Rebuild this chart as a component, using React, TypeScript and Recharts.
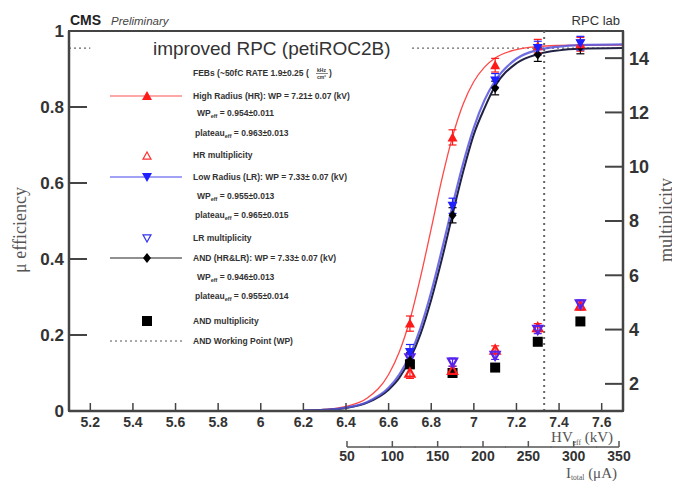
import React from "react";
import {
  ComposedChart,
  Line,
  Scatter,
  ErrorBar,
  XAxis,
  YAxis,
  ReferenceLine,
  ReferenceArea,
} from "recharts";

// measured points (HV_eff in kV)
const HV = [6.7, 6.9, 7.1, 7.3, 7.5];
const hrEff = [0.23, 0.72, 0.91, 0.96, 0.965];
const lrEff = [0.155, 0.54, 0.87, 0.955, 0.968];
const andEff = [0.132, 0.515, 0.85, 0.938, 0.958];
const effErr = [0.02, 0.02, 0.018, 0.018, 0.018];

const hrMult = [2.4, 2.5, 3.25, 4.07, 4.87];
const lrMult = [2.95, 2.8, 3.05, 4.0, 4.94];
const andMult = [2.72, 2.4, 2.6, 3.55, 4.3];
const multErr = [0.2, 0.15, 0.15, 0.15, 0.15];

// fitted sigmoid curves
const curveHV = [6.2, 6.3, 6.4, 6.5, 6.6, 6.65, 6.7, 6.75, 6.8, 6.85, 6.9, 6.95, 7.0, 7.05, 7.1, 7.2, 7.3, 7.4, 7.5, 7.7];
const hrFit = [0.001, 0.004, 0.012, 0.034, 0.096, 0.155, 0.24, 0.353, 0.48, 0.61, 0.722, 0.808, 0.867, 0.905, 0.929, 0.951, 0.959, 0.962, 0.963, 0.963];
const lrFit = [0.001, 0.003, 0.009, 0.024, 0.061, 0.096, 0.147, 0.219, 0.313, 0.424, 0.541, 0.652, 0.746, 0.818, 0.869, 0.927, 0.95, 0.959, 0.963, 0.965];
const andFit = [0.001, 0.003, 0.008, 0.022, 0.056, 0.087, 0.136, 0.203, 0.293, 0.4, 0.517, 0.63, 0.728, 0.797, 0.855, 0.915, 0.939, 0.949, 0.953, 0.955];

const hvTicks = [5.2, 5.4, 5.6, 5.8, 6, 6.2, 6.4, 6.6, 6.8, 7, 7.2, 7.4, 7.6];
const effTicks = [0, 0.2, 0.4, 0.6, 0.8, 1];
const multTicks = [2, 4, 6, 8, 10, 12, 14];
const curTicks = [50, 100, 150, 200, 250, 300, 350];

const WP = 7.33;
const WP_EFF = 0.955;

const HVX = 0;
const CURX = 1;

const RED = "#ff1a1a";
const BLUE = "#1f1fff";
const INK = "#333";
const FONT = "'Liberation Sans', Arial, sans-serif";
const SERIF = "'Liberation Serif', 'Times New Roman', serif";

const pts = (ys: number[], errs: number[]) => HV.map((x, i) => ({ x, y: ys[i], err: errs[i] }));
const curve = (ys: number[]) => curveHV.map((x, i) => ({ x, y: ys[i] }));

const triUp = (cx: number, cy: number, s: number) =>
  `${cx},${cy - s} ${cx - s},${cy + s * 0.8} ${cx + s},${cy + s * 0.8}`;
const triDown = (cx: number, cy: number, s: number) =>
  `${cx},${cy + s} ${cx - s},${cy - s * 0.8} ${cx + s},${cy - s * 0.8}`;

const FilledUp = (p: any) => <polygon points={triUp(p.cx, p.cy, 5)} fill={RED} />;
const FilledDown = (p: any) => <polygon points={triDown(p.cx, p.cy, 5)} fill={BLUE} />;
const OpenUp = (p: any) => <polygon points={triUp(p.cx, p.cy, 4.5)} fill="none" stroke={RED} strokeWidth={2.2} />;
const OpenDown = (p: any) => <polygon points={triDown(p.cx, p.cy, 4.5)} fill="none" stroke="#5522ee" strokeWidth={2.2} />;
const Diamond = (p: any) => (
  <polygon points={`${p.cx},${p.cy - 5} ${p.cx - 4},${p.cy} ${p.cx},${p.cy + 5} ${p.cx + 4},${p.cy}`} fill="#000" />
);
const Square = (p: any) => <rect x={p.cx - 5} y={p.cy - 5} width={10} height={10} fill="#000" />;

const LeftTick = ({ x, y, payload }: any) => (
  <g>
    <line x1={x} x2={x + 18} y1={y} y2={y} stroke="#444" strokeWidth={2} />
    <text x={x - 5} y={y} dy="0.36em" textAnchor="end" fontSize={17} fontWeight="bold" fill={INK} fontFamily={FONT}>
      {payload.value}
    </text>
  </g>
);

const RightTick = ({ x, y, payload }: any) => (
  <g>
    <line x1={x - 18} x2={x} y1={y} y2={y} stroke="#444" strokeWidth={2} />
    <text x={x + 6} y={y} dy="0.36em" textAnchor="start" fontSize={18} fontWeight="bold" fill={INK} fontFamily={FONT}>
      {payload.value}
    </text>
  </g>
);

const HvTick = ({ x, y, payload }: any) => (
  <g>
    <line x1={x} x2={x} y1={y} y2={y - 8} stroke="#444" strokeWidth={1.5} />
    <text x={x} y={y + 16} textAnchor="middle" fontSize={14} fontWeight="bold" fill={INK} fontFamily={FONT}>
      {payload.value}
    </text>
  </g>
);

const CurTick = ({ x, y, payload }: any) => {
  const v = payload.value;
  const x1 = v === curTicks[0] ? x : x - 23;
  const x2 = v === curTicks[curTicks.length - 1] ? x : x + 23;
  return (
    <g>
      <line x1={x1} x2={x2} y1={y} y2={y} stroke="#555" strokeWidth={1.5} />
      <line x1={x} x2={x} y1={y} y2={y - 6} stroke="#555" strokeWidth={1.5} />
      <text x={x} y={y + 14} textAnchor="middle" fontSize={14} fontWeight="bold" fill={INK} fontFamily={FONT}>
        {v}
      </text>
    </g>
  );
};

const Sub = ({ main, sub, rest }: { main: string; sub: string; rest: string }) => (
  <>
    {main}
    <tspan fontSize={5.5} dy={2}>{sub}</tspan>
    <tspan dy={-2}>{rest}</tspan>
  </>
);

function Overlay() {
  const tx = 185;
  const small = { fontSize: 8.5, fontWeight: "bold" as const, fill: INK, fontFamily: FONT };
  return (
    <svg width={672} height={474} style={{ position: "absolute", left: 0, top: 0, pointerEvents: "none" }}>
      <text x={62} y={17} fontSize={14} fontWeight="bold" fill="#222" fontFamily={FONT}>CMS</text>
      <text x={103} y={17} fontSize={11.5} fontStyle="italic" fill="#444" fontFamily={FONT}>Preliminary</text>
      <text x={612} y={17} fontSize={13} textAnchor="end" fill={INK} fontFamily={FONT}>RPC lab</text>
      <text x={145} y={47} fontSize={19} fill={INK} fontFamily={FONT}>improved RPC (petiROC2B)</text>

      <text x={tx} y={68} {...small}>FEBs (~50fC RATE 1.9±0.25 (</text>
      <text x={tx + 124} y={64} fontSize={5} fontWeight="bold" fill={INK} fontFamily={FONT}>kHz</text>
      <line x1={tx + 123} x2={tx + 135} y1={65.5} y2={65.5} stroke={INK} strokeWidth={0.6} />
      <text x={tx + 124} y={71} fontSize={5} fontWeight="bold" fill={INK} fontFamily={FONT}>cm²</text>
      <text x={tx + 136} y={68} {...small}>)</text>

      <line x1={102} x2={174} y1={88} y2={88} stroke="#ff5050" strokeWidth={1.2} />
      <polygon points={triUp(139, 88, 5)} fill={RED} />
      <text x={tx} y={91} {...small}>High Radius (HR): WP = 7.21± 0.07 (kV)</text>
      <text x={tx + 4} y={108} {...small}><Sub main="WP" sub="eff" rest=" = 0.954±0.011" /></text>
      <text x={tx + 2} y={128} {...small}><Sub main="plateau" sub="eff" rest=" = 0.963±0.013" /></text>

      <polygon points={triUp(139, 148, 4)} fill="none" stroke="#ff3030" strokeWidth={1.2} />
      <text x={tx} y={150} {...small}>HR multiplicity</text>

      <line x1={102} x2={174} y1={169} y2={169} stroke="#4444ee" strokeWidth={1.2} />
      <polygon points={triDown(139, 169, 5)} fill={BLUE} />
      <text x={tx} y={172} {...small}>Low Radius (LR): WP = 7.33± 0.07 (kV)</text>
      <text x={tx + 4} y={191} {...small}><Sub main="WP" sub="eff" rest=" = 0.955±0.013" /></text>
      <text x={tx + 2} y={210} {...small}><Sub main="plateau" sub="eff" rest=" = 0.965±0.015" /></text>

      <polygon points={triDown(139, 230, 4)} fill="none" stroke="#3333ee" strokeWidth={1.2} />
      <text x={tx} y={233} {...small}>LR multiplicity</text>

      <line x1={102} x2={174} y1={250} y2={250} stroke="#222" strokeWidth={1.2} />
      <polygon points={`139,245 135,250 139,255 143,250`} fill="#000" />
      <text x={tx} y={253} {...small}>AND (HR&amp;LR): WP = 7.33± 0.07 (kV)</text>
      <text x={tx + 4} y={272} {...small}><Sub main="WP" sub="eff" rest=" = 0.946±0.013" /></text>
      <text x={tx + 2} y={291} {...small}><Sub main="plateau" sub="eff" rest=" = 0.955±0.014" /></text>

      <rect x={134} y={308} width={10} height={10} fill="#000" />
      <text x={tx} y={316} {...small}>AND multiplicity</text>

      <line x1={102} x2={174} y1={333} y2={333} stroke="#555" strokeWidth={1} strokeDasharray="2 3" />
      <text x={tx} y={336} {...small}>AND Working Point (WP)</text>

      <text x={605} y={434} textAnchor="end" fontSize={15} fill="#555" fontFamily={SERIF}>
        HV<tspan fontSize={7.5} dy={2.5}>eff</tspan><tspan dy={-2.5}> (kV)</tspan>
      </text>
      <text x={609} y={470} textAnchor="end" fontSize={15} fill="#555" fontFamily={SERIF}>
        I<tspan fontSize={7.5} dy={2}>total</tspan><tspan dy={-2}> (μA)</tspan>
      </text>

      <text x={18} y={222} transform="rotate(-90 18 222)" textAnchor="middle" fontSize={18} fill="#555" fontFamily={SERIF}>
        μ efficiency
      </text>
      <text x={664} y={212} transform="rotate(-90 664 212)" textAnchor="middle" fontSize={18} fill="#555" fontFamily={SERIF}>
        multiplicity
      </text>
    </svg>
  );
}

export default function App() {
  return (
    <div style={{ position: "relative", width: 672, height: 474, background: "#fff" }}>
      <ComposedChart width={672} height={474} margin={{ top: 23, right: 12, bottom: 5, left: 16 }}>
        <XAxis
          xAxisId={HVX}
          type="number"
          dataKey="x"
          domain={[5.1, 7.7]}
          allowDataOverflow
          ticks={hvTicks}
          interval={0}
          height={36}
          tickSize={0}
          tickMargin={0}
          tickLine={false}
          axisLine={{ stroke: "#444", strokeWidth: 2.5 }}
          tick={<HvTick />}
        />
        <XAxis
          xAxisId={CURX}
          type="number"
          dataKey="x"
          domain={[-256.6, 354.4]}
          allowDataOverflow
          ticks={curTicks}
          interval={0}
          height={30}
          tickSize={0}
          tickMargin={0}
          tickLine={false}
          axisLine={false}
          tick={<CurTick />}
        />
        <YAxis
          yAxisId="eff"
          type="number"
          domain={[0, 1]}
          ticks={effTicks}
          interval={0}
          width={45}
          tickSize={0}
          tickMargin={0}
          tickLine={false}
          axisLine={{ stroke: "#444", strokeWidth: 2.5 }}
          tick={<LeftTick />}
        />
        <YAxis
          yAxisId="m"
          orientation="right"
          type="number"
          domain={[1, 15]}
          allowDataOverflow
          ticks={multTicks}
          interval={0}
          width={45}
          tickSize={0}
          tickMargin={0}
          tickLine={false}
          axisLine={{ stroke: "#444", strokeWidth: 2.5 }}
          tick={<RightTick />}
        />

        <ReferenceArea xAxisId={HVX} yAxisId="eff" x1={5.1} x2={7.7} y1={0} y2={1} fill="none" stroke="#444" strokeWidth={2} />
        <ReferenceLine
          xAxisId={HVX}
          yAxisId="eff"
          segment={[{ x: 5.1, y: WP_EFF }, { x: 5.2, y: WP_EFF }]}
          stroke="#666"
          strokeDasharray="2 3"
          strokeWidth={1.2}
        />
        <ReferenceLine
          xAxisId={HVX}
          yAxisId="eff"
          segment={[{ x: 6.71, y: WP_EFF }, { x: 7.7, y: WP_EFF }]}
          stroke="#666"
          strokeDasharray="2 3"
          strokeWidth={1.2}
        />
        <ReferenceLine xAxisId={HVX} yAxisId="eff" x={WP} stroke="#666" strokeDasharray="2 4" strokeWidth={2} />

        <Line xAxisId={HVX} yAxisId="eff" data={curve(hrFit)} dataKey="y" type="monotone" stroke="#ff4848" strokeWidth={1.3} dot={false} isAnimationActive={false} />
        <Line xAxisId={HVX} yAxisId="eff" data={curve(andFit)} dataKey="y" type="monotone" stroke="#222244" strokeWidth={2} dot={false} isAnimationActive={false} />
        <Line xAxisId={HVX} yAxisId="eff" data={curve(lrFit)} dataKey="y" type="monotone" stroke="#5555dd" strokeWidth={2.2} strokeOpacity={0.85} dot={false} isAnimationActive={false} />

        <Scatter xAxisId={HVX} yAxisId="m" data={pts(andMult, multErr)} dataKey="y" shape={Square} isAnimationActive={false}>
          <ErrorBar dataKey="err" direction="y" width={0} stroke="#000" strokeWidth={1.2} />
        </Scatter>
        <Scatter xAxisId={HVX} yAxisId="m" data={pts(hrMult, multErr)} dataKey="y" shape={OpenUp} isAnimationActive={false}>
          <ErrorBar dataKey="err" direction="y" width={4} stroke={RED} strokeWidth={1.2} />
        </Scatter>
        <Scatter xAxisId={HVX} yAxisId="m" data={pts(lrMult, multErr)} dataKey="y" shape={OpenDown} isAnimationActive={false}>
          <ErrorBar dataKey="err" direction="y" width={4} stroke="#5522ee" strokeWidth={1.2} />
        </Scatter>

        <Scatter xAxisId={HVX} yAxisId="eff" data={pts(andEff, effErr)} dataKey="y" shape={Diamond} isAnimationActive={false}>
          <ErrorBar dataKey="err" direction="y" width={4} stroke="#000" strokeWidth={1.2} />
        </Scatter>
        <Scatter xAxisId={HVX} yAxisId="eff" data={pts(hrEff, effErr)} dataKey="y" shape={FilledUp} isAnimationActive={false}>
          <ErrorBar dataKey="err" direction="y" width={4} stroke={RED} strokeWidth={1.2} />
        </Scatter>
        <Scatter xAxisId={HVX} yAxisId="eff" data={pts(lrEff, effErr)} dataKey="y" shape={FilledDown} isAnimationActive={false}>
          <ErrorBar dataKey="err" direction="y" width={4} stroke={BLUE} strokeWidth={1.2} />
        </Scatter>
      </ComposedChart>
      <Overlay />
    </div>
  );
}
